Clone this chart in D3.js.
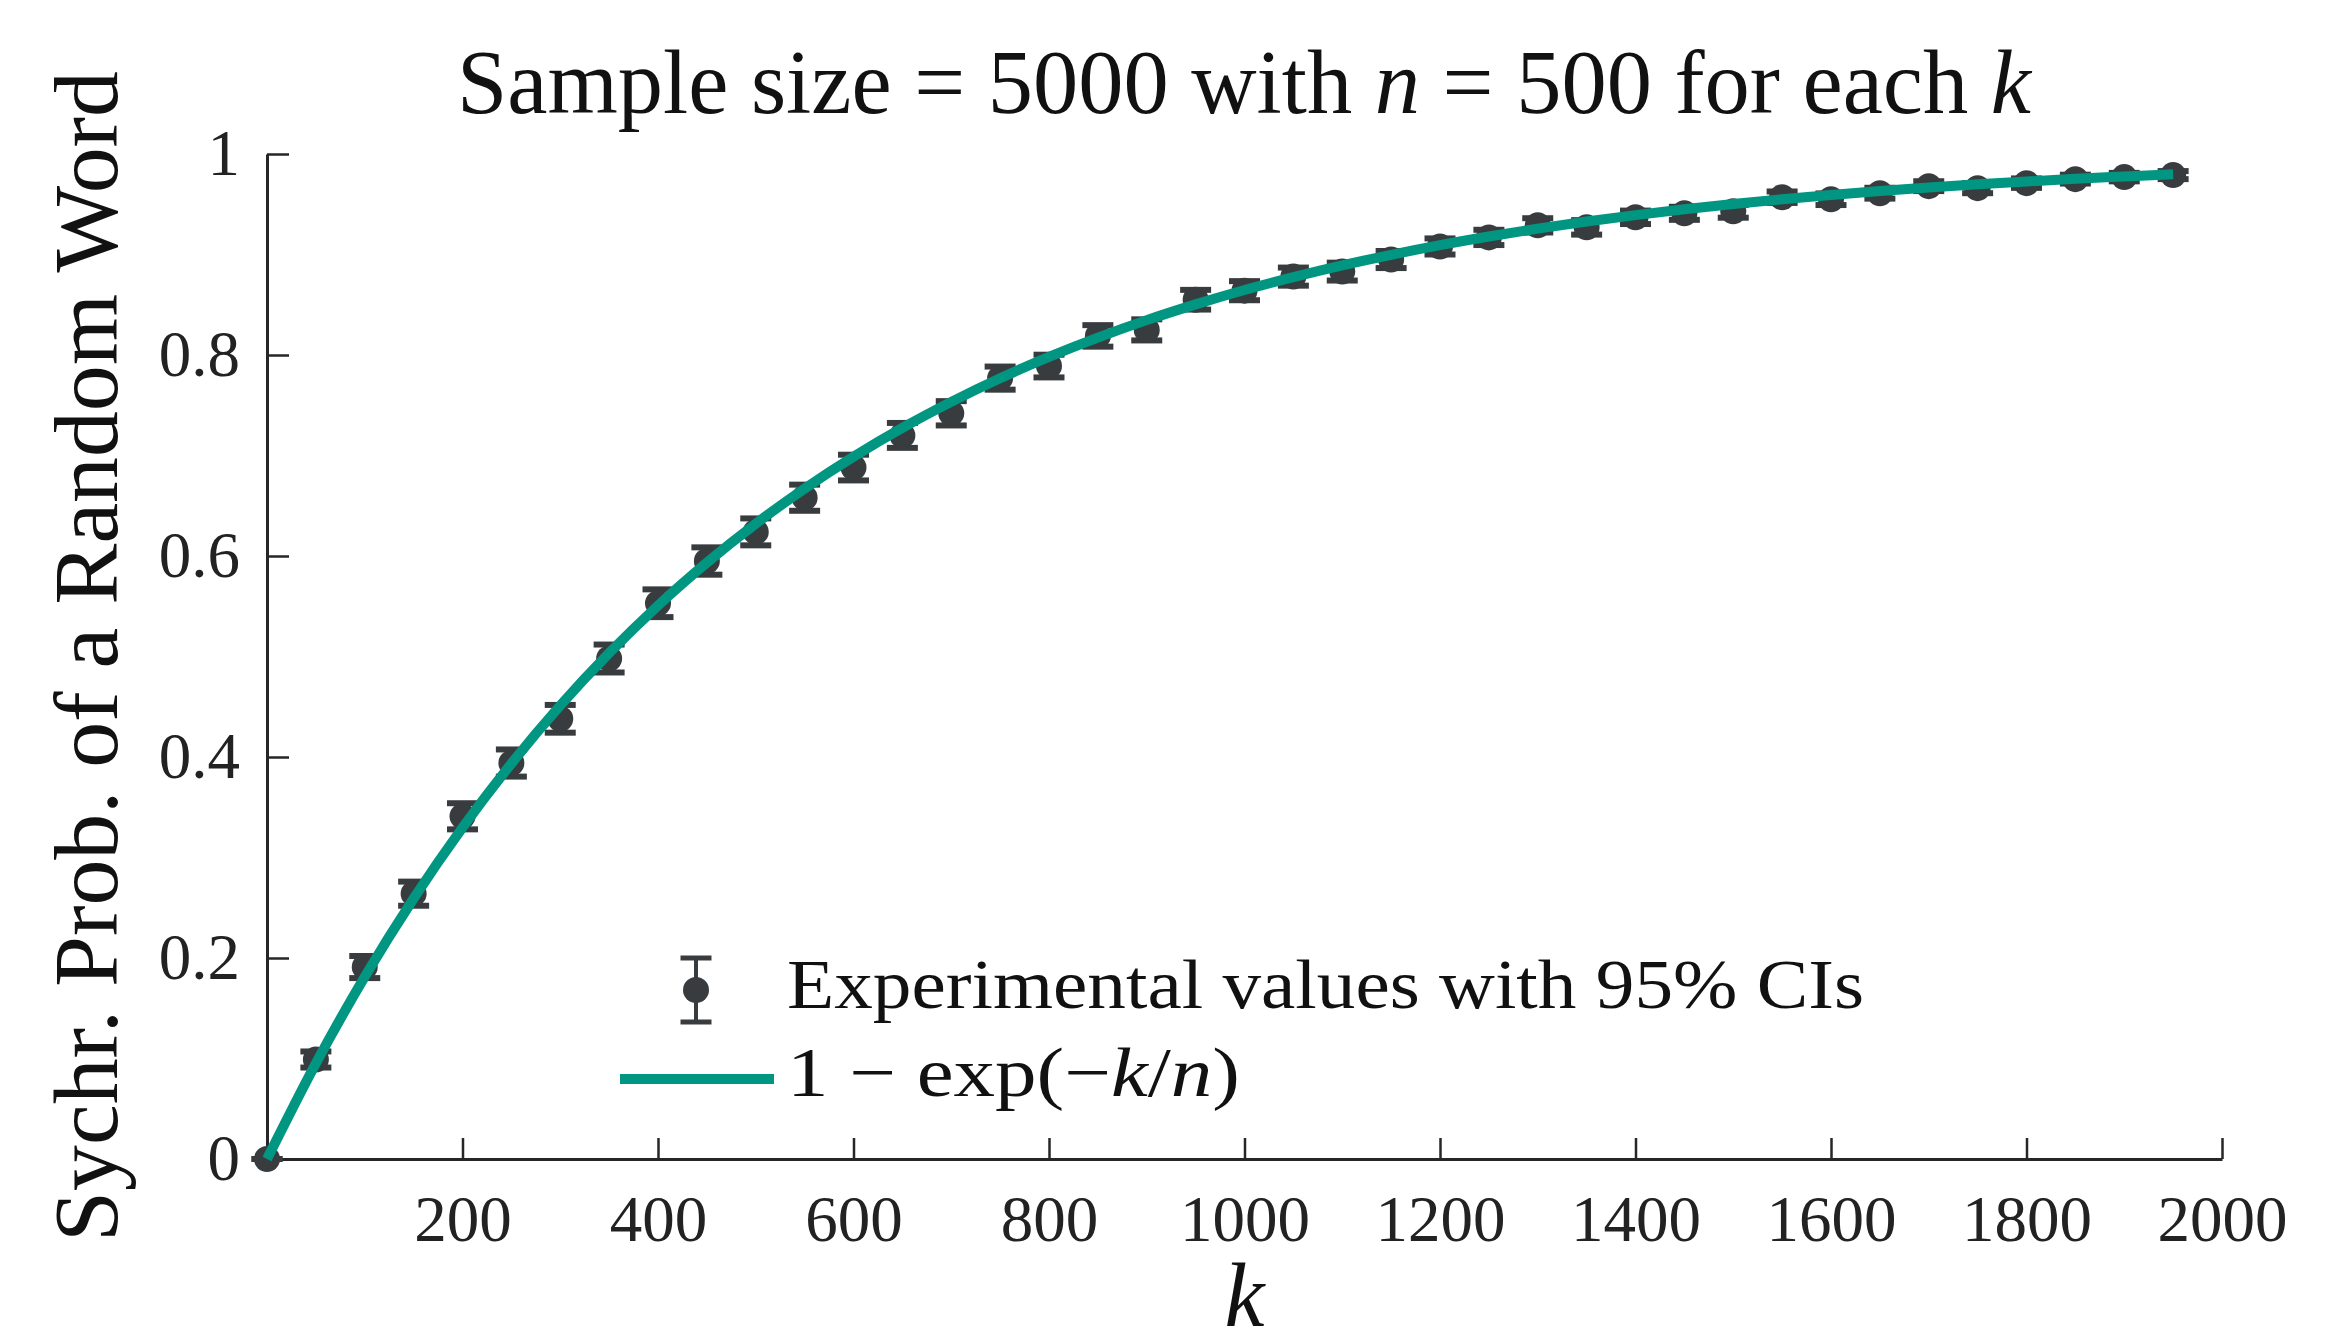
<!DOCTYPE html>
<html>
<head>
<meta charset="utf-8">
<script src="https://cdn.jsdelivr.net/npm/d3@7"></script>
<style>
  body { margin: 0; background: #fff; }
  text { font-family: "Liberation Serif", "DejaVu Serif", serif; fill: #111; }
</style>
</head>
<body>
<div id="chart"></div>
<script>
// k values (x), measured synchr. probability, half width of 95% CI, and the fitted curve
var kValues = [0, 50, 100, 150, 200, 250, 300, 350, 400, 450, 500, 550, 600, 650, 700, 750, 800, 850, 900, 950,
  1000, 1050, 1100, 1150, 1200, 1250, 1300, 1350, 1400, 1450, 1500, 1550, 1600, 1650, 1700, 1750, 1800, 1850, 1900, 1950];
var expValues = [0, 0.099, 0.191, 0.264, 0.341, 0.394, 0.438, 0.498, 0.553, 0.595, 0.624, 0.658, 0.688, 0.720, 0.742, 0.777, 0.789, 0.819, 0.825, 0.855,
  0.864, 0.878, 0.883, 0.895, 0.908, 0.917, 0.929, 0.927, 0.937, 0.941, 0.943, 0.957, 0.955, 0.961, 0.968, 0.966, 0.971, 0.975, 0.977, 0.979];
var ciValues = [0, 0.008, 0.011, 0.012, 0.013, 0.0135, 0.0138, 0.0139, 0.0138, 0.0136, 0.0134, 0.013, 0.0128, 0.0124, 0.0121, 0.0115, 0.0113, 0.0107, 0.0105, 0.0098,
  0.0095, 0.009, 0.0089, 0.0085, 0.008, 0.0076, 0.0071, 0.0072, 0.0067, 0.0065, 0.0064, 0.0057, 0.0058, 0.0054, 0.0049, 0.005, 0.0047, 0.0044, 0.0042, 0.004];
var fitValues = [0, 0.0952, 0.1813, 0.2592, 0.3297, 0.3935, 0.4512, 0.5034, 0.5507, 0.5934, 0.6321, 0.6671, 0.6988, 0.7275, 0.7534, 0.7769, 0.7981, 0.8173, 0.8347, 0.8504,
  0.8647, 0.8775, 0.8892, 0.8997, 0.9093, 0.9179, 0.9257, 0.9328, 0.9392, 0.9450, 0.9502, 0.9550, 0.9592, 0.9631, 0.9666, 0.9698, 0.9727, 0.9753, 0.9776, 0.9798];
var xTicks = [200, 400, 600, 800, 1000, 1200, 1400, 1600, 1800, 2000];
var yTicks = [0, 0.2, 0.4, 0.6, 0.8, 1];

var width = 2333, height = 1331;
var teal = '#009682', markColor = '#383c3f', axisColor = '#262626';

var svg = d3.select('#chart')
  .append('svg')
  .attr('width', width)
  .attr('height', height);

var x = d3.scaleLinear().domain([0, 2000]).range([267, 2222]);
var y = d3.scaleLinear().domain([0, 1]).range([1159, 154]);

// axes
var xAxis = svg.append('g')
  .attr('transform', 'translate(0,' + y(0) + ')')
  .call(d3.axisBottom(x).tickValues(xTicks).tickSizeInner(-21).tickSizeOuter(0).tickPadding(36).tickFormat(d3.format('d')));
var yAxis = svg.append('g')
  .attr('transform', 'translate(' + x(0) + ',0)')
  .call(d3.axisLeft(y).tickValues(yTicks).tickSizeInner(-22).tickSizeOuter(0).tickPadding(27).tickFormat(function(d) { return d3.format('')(d); }));

[xAxis, yAxis].forEach(function(a) {
  a.select('.domain').style('stroke', axisColor).style('stroke-width', 3);
  a.selectAll('.tick line').style('stroke', axisColor).style('stroke-width', 2.5);
  a.selectAll('.tick text')
    .style('font-family', '"Liberation Serif", serif')
    .style('font-size', '65px')
    .style('fill', '#222');
});

// experimental points with error bars
var pts = kValues.map(function(k, i) { return {k: k, p: expValues[i], ci: ciValues[i]}; });
var bars = svg.append('g').selectAll('g').data(pts).enter().append('g');
bars.append('line')
  .attr('x1', function(d) { return x(d.k); })
  .attr('x2', function(d) { return x(d.k); })
  .attr('y1', function(d) { return y(d.p - d.ci); })
  .attr('y2', function(d) { return y(d.p + d.ci); })
  .style('stroke', markColor).style('stroke-width', 4);
[-1, 1].forEach(function(s) {
  bars.append('line')
    .attr('x1', function(d) { return x(d.k) - 15.5; })
    .attr('x2', function(d) { return x(d.k) + 15.5; })
    .attr('y1', function(d) { return y(d.p + s * d.ci); })
    .attr('y2', function(d) { return y(d.p + s * d.ci); })
    .style('stroke', markColor).style('stroke-width', 6);
});
bars.append('circle')
  .attr('cx', function(d) { return x(d.k); })
  .attr('cy', function(d) { return y(d.p); })
  .attr('r', 13)
  .style('fill', markColor);

// fitted curve
var line = d3.line()
  .x(function(d, i) { return x(kValues[i]); })
  .y(function(d) { return y(d); })
  .curve(d3.curveMonotoneX);
svg.append('path')
  .datum(fitValues)
  .attr('d', line)
  .style('fill', 'none')
  .style('stroke', teal)
  .style('stroke-width', 10);

// legend
var lg = svg.append('g');
lg.append('line').attr('x1', 696).attr('x2', 696).attr('y1', 958).attr('y2', 1022)
  .style('stroke', markColor).style('stroke-width', 4);
[958, 1022].forEach(function(cy) {
  lg.append('line').attr('x1', 680.5).attr('x2', 711.5).attr('y1', cy).attr('y2', cy)
    .style('stroke', markColor).style('stroke-width', 5);
});
lg.append('circle').attr('cx', 696).attr('cy', 990).attr('r', 13).style('fill', markColor);
lg.append('line').attr('x1', 620).attr('x2', 774).attr('y1', 1079).attr('y2', 1079)
  .style('stroke', teal).style('stroke-width', 10);

lg.append('text')
  .attr('x', 787).attr('y', 1008)
  .attr('textLength', 1077).attr('lengthAdjust', 'spacingAndGlyphs')
  .style('font-size', '70px')
  .text('Experimental values with 95% CIs');

var t2 = lg.append('text')
  .attr('x', 787).attr('y', 1096)
  .attr('textLength', 453).attr('lengthAdjust', 'spacingAndGlyphs')
  .style('font-size', '70px');
t2.append('tspan').text('1 \u2212 exp(\u2212');
t2.append('tspan').style('font-style', 'italic').text('k');
t2.append('tspan').text('/');
t2.append('tspan').style('font-style', 'italic').text('n');
t2.append('tspan').text(')');

// title
var title = svg.append('text')
  .attr('x', 457).attr('y', 113)
  .attr('textLength', 1574).attr('lengthAdjust', 'spacingAndGlyphs')
  .style('font-size', '90px');
title.append('tspan').text('Sample size = 5000 with ');
title.append('tspan').style('font-style', 'italic').text('n');
title.append('tspan').text(' = 500 for each ');
title.append('tspan').style('font-style', 'italic').text('k');

// axis labels
svg.append('text')
  .attr('transform', 'translate(117,' + ((y(0) + y(1)) / 2) + ') rotate(-90)')
  .attr('text-anchor', 'middle')
  .attr('textLength', 1171).attr('lengthAdjust', 'spacingAndGlyphs')
  .style('font-size', '92px')
  .text('Sychr. Prob. of a Random Word');

svg.append('text')
  .attr('x', x(1000)).attr('y', 1326)
  .attr('text-anchor', 'middle')
  .style('font-size', '90px')
  .style('font-style', 'italic')
  .text('k');
</script>
</body>
</html>
